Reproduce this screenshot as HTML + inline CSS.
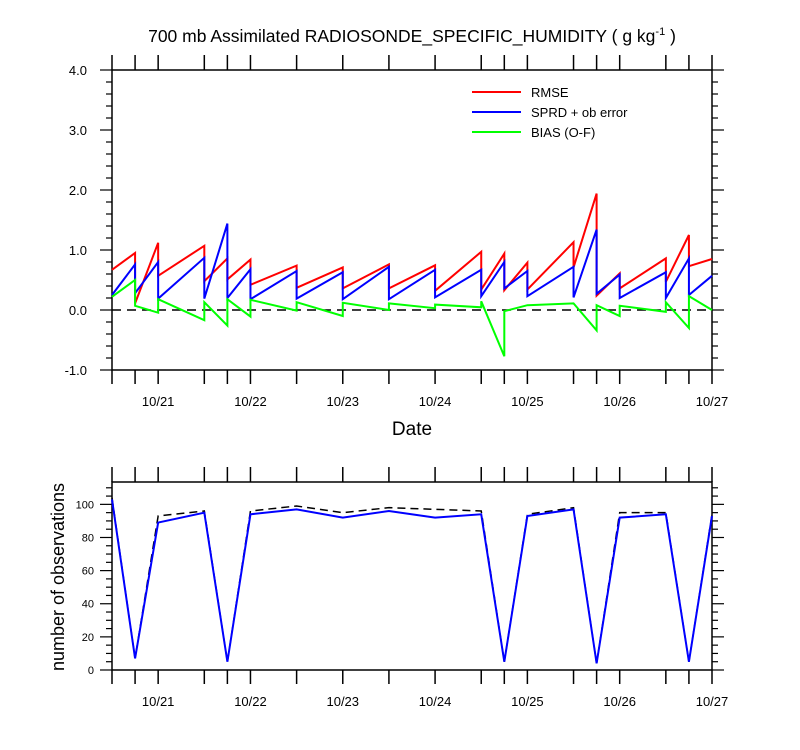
<!DOCTYPE html>
<html><head><meta charset="utf-8"><style>
body{margin:0;background:#fff}
svg{display:block;font-family:"Liberation Sans",sans-serif}
</style></head><body>
<svg id="c" width="800" height="750" xmlns="http://www.w3.org/2000/svg">
<text x="412" y="42" font-size="17.5" text-anchor="middle">700 mb Assimilated RADIOSONDE_SPECIFIC_HUMIDITY ( g kg<tspan dy="-7" font-size="11">-1</tspan><tspan dy="7"> )</tspan></text>
<g id="gtop"></g><g id="gbot"></g>
<text x="412" y="435" font-size="19" text-anchor="middle">Date</text>
<text transform="translate(64,577) rotate(-90)" font-size="18" text-anchor="middle">number of observations</text>
</svg>
<script>
// times in hours from 10/20 12Z
const times=[0,6,12,24,30,36,48,60,72,84,96,102,108,120,126,132,144,150,156];
const rmseStart=[0.67,0.11,0.57,0.48,0.51,0.42,0.37,0.36,0.36,0.32,0.34,0.33,0.34,0.71,0.24,0.36,0.47,0.73];
const rmseEnd=[0.95,1.12,1.07,0.86,0.84,0.74,0.71,0.76,0.745,0.97,0.94,0.79,1.13,1.94,0.61,0.86,1.25,0.85];
const sprdStart=[0.25,0.28,0.19,0.19,0.2,0.18,0.19,0.18,0.18,0.21,0.23,0.36,0.23,0.21,0.27,0.2,0.2,0.25];
const sprdEnd=[0.76,0.8,0.87,1.44,0.68,0.65,0.63,0.72,0.67,0.67,0.8,0.65,0.72,1.34,0.59,0.63,0.86,0.57];
const biasStart=[0.22,0.07,0.18,0.13,0.18,0.17,0.13,0.12,0.11,0.09,0.145,-0.02,0.08,0.11,0.08,0.07,0.13,0.23];
const biasEnd=[0.5,-0.045,-0.17,-0.26,-0.11,-0.01,-0.1,0.0,0.03,0.045,-0.77,0.08,0.11,-0.34,-0.1,-0.03,-0.3,0.0];
const obsUsed=[103,7,89,95,5,94,97,92,96,92,94,5,93,97,4,92,94,5,93];
const obsTotal=[104,7,93,96,5,96,99,95,98,97,96,5,94,98,4,95,95,5,94];
const dateLabels=["10/21","10/22","10/23","10/24","10/25","10/26","10/27"];
const dateHours=[12,36,60,84,108,132,156];
const yTopTicks=[4.0,3.0,2.0,1.0,0.0,-1.0];
const yBotTicks=[0,20,40,60,80,100];

const NS="http://www.w3.org/2000/svg";
const X0=112,X1=712,TMAX=156;
const xs=h=>X0+(h/TMAX)*(X1-X0);
const yT=v=>310-v*60;
const yB=v=>670-v*(188/113.5);
function el(tag,attrs,parent,txt){const e=document.createElementNS(NS,tag);for(const k in attrs)e.setAttribute(k,attrs[k]);if(txt!=null)e.textContent=txt;parent.appendChild(e);return e;}
const gTop=document.getElementById('gtop'),gBot=document.getElementById('gbot');

function frame(g,yt,yb,name){
  const r=el('rect',{x:X0,y:yt,width:X1-X0,height:yb-yt,fill:'none',stroke:'#000','stroke-width':1.5},g);
  
  
  times.forEach(h=>{
    const x=xs(h);
    const t1=el('line',{x1:x,x2:x,y1:yt,y2:yt-15,stroke:'#000','stroke-width':1.5},g);
    
    
    const t2=el('line',{x1:x,x2:x,y1:yb,y2:yb+14,stroke:'#000','stroke-width':1.5},g);
    
    
  });
  dateLabels.forEach((l,i)=>{
    const t=el('text',{x:xs(dateHours[i]),y:yb+36,'font-size':13,'text-anchor':'middle'},g,l);
    
    
  });
}
// top panel
frame(gTop,70,370,'top-plot');
for(let k=-5;k<=20;k++){
  const v=k*0.2;
  const y=yT(v);const major=k%5===0;const L=major?12:6;
  const a=el('line',{x1:X0,x2:X0-L,y1:y,y2:y,stroke:'#000','stroke-width':1.2},gTop);
  
  
  const b=el('line',{x1:X1,x2:X1+L,y1:y,y2:y,stroke:'#000','stroke-width':1.2},gTop);
  
  
}
yTopTicks.forEach(v=>{
  const t=el('text',{x:87,y:yT(v)+5,'font-size':13,'text-anchor':'end'},gTop,v.toFixed(1));
  
  
});
const zl=el('line',{x1:X0,x2:X1,y1:yT(0),y2:yT(0),stroke:'#000','stroke-width':1.5,'stroke-dasharray':'9,6'},gTop);


function saw(st,en,col,name){
  let pts=[];
  for(let i=0;i<st.length;i++){pts.push(xs(times[i])+','+yT(st[i]));pts.push(xs(times[i+1])+','+yT(en[i]));}
  const p=el('polyline',{points:pts.join(' '),fill:'none',stroke:col,'stroke-width':2},gTop);
  
  
}
saw(rmseStart,rmseEnd,'#ff0000','rmse-line');
saw(sprdStart,sprdEnd,'#0000ff','sprd-line');
saw(biasStart,biasEnd,'#00ff00','bias-line');
[['RMSE','#ff0000',92],['SPRD + ob error','#0000ff',112],['BIAS (O-F)','#00ff00',132]].forEach(([l,c,y])=>{
  const ln=el('line',{x1:472,x2:521,y1:y,y2:y,stroke:c,'stroke-width':2},gTop);
  
  
  const t=el('text',{x:531,y:y+5,'font-size':13},gTop,l);
  
  
});
// bottom panel
frame(gBot,482,670,'bottom-plot');
for(let v=0;v<=110;v+=5){
  const y=yB(v);const L=v%20===0?12:6;
  const a=el('line',{x1:X0,x2:X0-L,y1:y,y2:y,stroke:'#000','stroke-width':1.2},gBot);
  
  
  const b=el('line',{x1:X1,x2:X1+L,y1:y,y2:y,stroke:'#000','stroke-width':1.2},gBot);
  
  
}
yBotTicks.forEach(v=>{
  const t=el('text',{x:94,y:yB(v)+4,'font-size':11,'text-anchor':'end'},gBot,String(v));
  
  
});
const pT=el('polyline',{points:obsTotal.map((v,i)=>xs(times[i])+','+yB(v)).join(' '),fill:'none',stroke:'#000','stroke-width':1.5,'stroke-dasharray':'8,5'},gBot);


const pU=el('polyline',{points:obsUsed.map((v,i)=>xs(times[i])+','+yB(v)).join(' '),fill:'none',stroke:'#0000ff','stroke-width':2},gBot);


</script>
</body></html>
